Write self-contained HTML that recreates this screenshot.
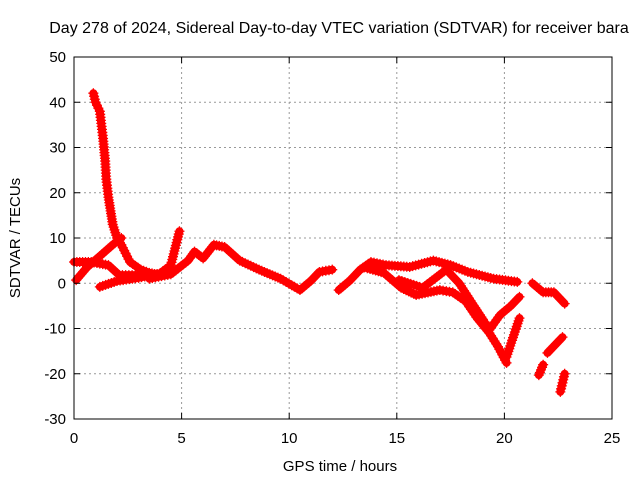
<!DOCTYPE html>
<html><head><meta charset="utf-8"><style>
body{margin:0;background:#fff}
svg{display:block;font-family:"Liberation Sans",sans-serif}
</style></head><body>
<svg id="chart" width="640" height="480">
<text x="339" y="33" font-size="16" text-anchor="middle">Day 278 of 2024, Sidereal Day-to-day VTEC variation (SDTVAR) for receiver bara</text>
<text x="340" y="471" font-size="15" text-anchor="middle">GPS time / hours</text>
<text transform="translate(20,238) rotate(-90)" font-size="15" text-anchor="middle">SDTVAR / TECUs</text>
<g id="grid"></g><g id="marks"></g><g id="axes"></g>
</svg>
<script>
const xTicks=[0,5,10,15,20,25];
const yTicks=[-30,-20,-10,0,10,20,30,40,50];
const trackSpike=[[0.9,42],[1.0,40],[1.2,38],[1.35,32],[1.45,27],[1.5,23],[1.6,19],[1.7,16],[1.8,13],[2.0,10],[2.2,8.5],[2.6,4.7],[3.1,3],[3.5,2.3],[4.0,1.8]];
const trackRise=[[0.1,0.7],[0.6,3.5],[1.2,6],[1.8,8.5],[2.2,10]];
const trackFlat=[[0,4.7],[0.8,4.7],[1.6,4],[2.1,1.8],[3.0,1.8],[3.7,1.5]];
const trackLow=[[1.2,-0.8],[2.0,0.5],[3.0,1.2],[4.0,2.2],[4.5,4],[4.9,11.5]];
const trackMid=[[3.5,1],[4.5,2],[5.3,5],[5.6,7],[6.0,5.5],[6.5,8.5],[7.0,8],[7.7,5],[8.6,3],[9.6,1],[10.5,-1.5],[11.0,0.5],[11.4,2.5],[12.0,3]];
const trackDay2=[[12.3,-1.5],[12.8,0.5],[13.3,3],[13.8,4.7],[14.5,4],[15.6,3.6],[16.7,5],[17.5,4],[18.3,2.5],[19.5,1],[20.6,0.3]];
const trackDown1=[[13.5,3.5],[14.4,2.3],[15.2,-1],[15.9,-2.6],[17.0,-1.5],[17.6,-2],[18.2,-4],[18.7,-7.5],[19.3,-11],[19.7,-14],[20.1,-17.6]];
const trackDown2=[[15.1,0.7],[16.2,-1],[17.3,3],[17.9,0],[18.5,-4.4],[19.0,-8],[19.3,-10.3],[19.8,-7],[20.3,-5],[20.7,-3]];
const trackFrag1=[[20.7,-7.7],[20.4,-12],[20.1,-16.3]];
const trackFrag2=[[21.3,0],[21.8,-2],[22.3,-2],[22.8,-4.5]];
const trackFrag3=[[22.7,-11.9],[22.0,-15.4]];
const trackFrag4=[[21.8,-18],[21.6,-20.3]];
const trackFrag5=[[22.8,-20],[22.6,-24]];
const tracks=[trackSpike,trackRise,trackFlat,trackLow,trackMid,trackDay2,trackDown1,trackDown2,trackFrag1,trackFrag2,trackFrag3,trackFrag4,trackFrag5];
const L=74,R=612,T=57,B=419;
const xs=h=>L+(h-0)/25*(R-L);
const ys=v=>B-(v+30)/80*(B-T);
const NS="http://www.w3.org/2000/svg";
const grid=document.getElementById('grid'),axes=document.getElementById('axes'),marks=document.getElementById('marks');
function mk(tag,attrs,parent){const e=document.createElementNS(NS,tag);for(const k in attrs)e.setAttribute(k,attrs[k]);parent.appendChild(e);return e;}
xTicks.forEach(t=>{const x=xs(t);
 if(t>0&&t<25){const g=mk('line',{x1:x,x2:x,y1:T,y2:B,stroke:'#999','stroke-dasharray':'2,3'},grid);
 
 }
 mk('line',{x1:x,x2:x,y1:B,y2:B-6,stroke:'#000'},axes);mk('line',{x1:x,x2:x,y1:T,y2:T+6,stroke:'#000'},axes);
 const tx=mk('text',{x:x,y:B+24,'font-size':15,'text-anchor':'middle'},axes);tx.textContent=t;
 
 });
yTicks.forEach(t=>{const y=ys(t);
 if(t>-30&&t<50){const g=mk('line',{x1:L,x2:R,y1:y,y2:y,stroke:'#999','stroke-dasharray':'2,3'},grid);
 
 }
 mk('line',{x1:L,x2:L+6,y1:y,y2:y,stroke:'#000'},axes);mk('line',{x1:R,x2:R-6,y1:y,y2:y,stroke:'#000'},axes);
 const tx=mk('text',{x:L-8,y:y+5,'font-size':15,'text-anchor':'end'},axes);tx.textContent=t;
 
 });
const frame=mk('rect',{x:L,y:T,width:R-L,height:B-T,fill:'none',stroke:'#000'},axes);


tracks.forEach((tr,i)=>{
 const g=mk('g',{},marks);
 
 
 mk('polyline',{points:tr.map(p=>xs(p[0])+','+ys(p[1])).join(' '),fill:'none',stroke:'#f00','stroke-width':8,'stroke-linejoin':'round','stroke-linecap':'round'},g);
 let d='';
 for(let j=0;j<tr.length;j++){
  const x0=xs(tr[j][0]),y0=ys(tr[j][1]);
  const nxt=tr[j+1]||tr[j];const x1=xs(nxt[0]),y1=ys(nxt[1]);
  const n=Math.max(1,Math.round(Math.hypot(x1-x0,y1-y0)/3));
  for(let k=0;k<n;k++){const x=x0+(x1-x0)*k/n,y=y0+(y1-y0)*k/n;d+=`M${x-5},${y}h10M${x},${y-5}v10`;}
  if(j===tr.length-1)d+=`M${x0-5},${y0}h10M${x0},${y0-5}v10`;
 }
 mk('path',{d:d,stroke:'#f00','stroke-width':1.3,fill:'none'},g);
});
</script>
</body></html>
